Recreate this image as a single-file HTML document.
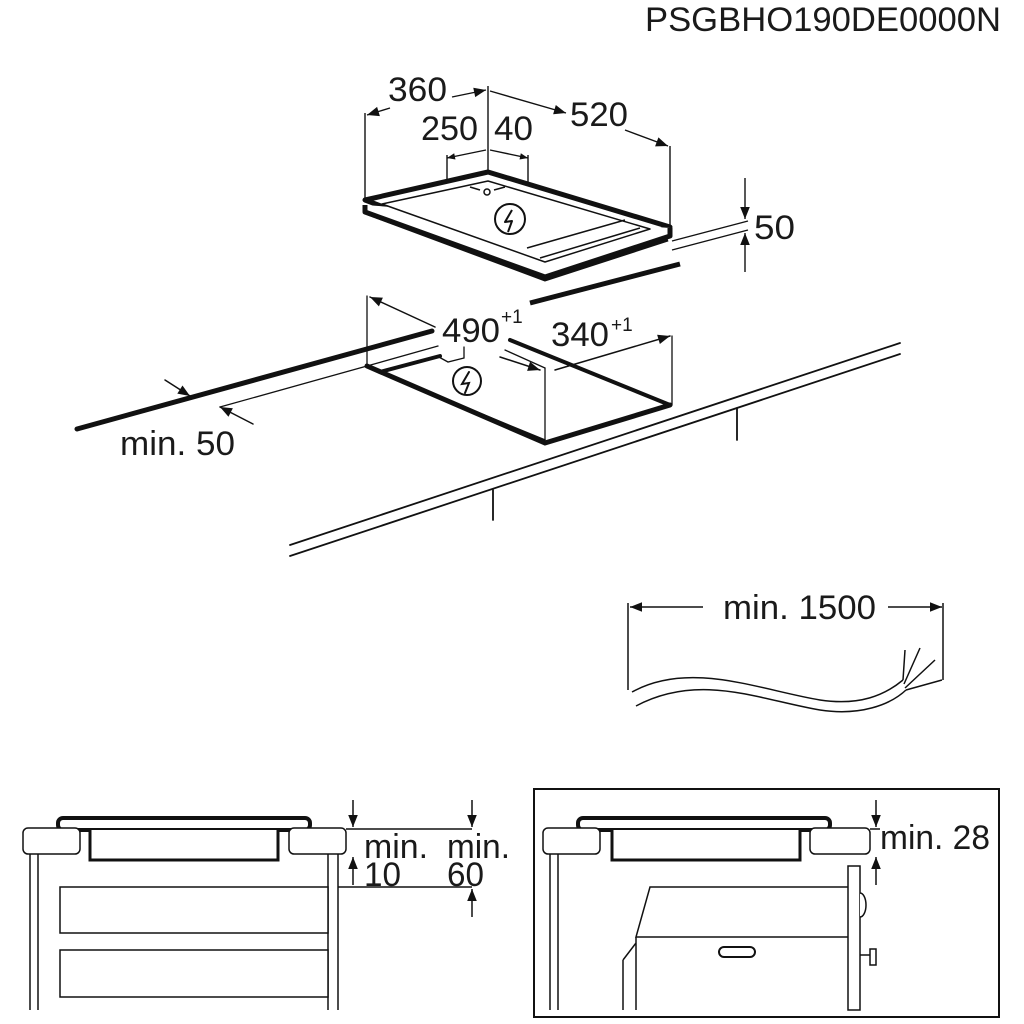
<!DOCTYPE html>
<html><head><style>
html,body{margin:0;padding:0;background:#fff;}
svg{display:block}
text{font-family:"Liberation Sans",sans-serif;fill:#1a1a1a}
</style></head><body>
<svg width="1024" height="1024" viewBox="0 0 1024 1024" xmlns="http://www.w3.org/2000/svg">
<defs>
<marker id="a" viewBox="0 0 10 10" refX="10" refY="5" markerWidth="9" markerHeight="8" orient="auto-start-reverse" markerUnits="userSpaceOnUse"><path d="M0,1 L10,5 L0,9 z" fill="#111"/></marker>
<marker id="b" viewBox="0 0 10 10" refX="10" refY="5" markerWidth="16" markerHeight="12" orient="auto-start-reverse" markerUnits="userSpaceOnUse"><path d="M0,1 L10,5 L0,9 z" fill="#111"/></marker>
</defs>
<text x="1001" y="31" font-size="34" text-anchor="end" textLength="356" lengthAdjust="spacingAndGlyphs">PSGBHO190DE0000N</text>

<g stroke="#111" fill="none" stroke-width="1.4">
<line x1="365" y1="113" x2="365" y2="200"/>
<line x1="488" y1="86" x2="488" y2="176"/>
<line x1="670" y1="146" x2="670" y2="228"/>
<line x1="447" y1="155" x2="447" y2="180"/>
<line x1="528" y1="155" x2="528" y2="182"/>
<line x1="390" y1="108" x2="367" y2="115" marker-end="url(#b)"/>
<line x1="452" y1="97" x2="486" y2="90" marker-end="url(#b)"/>
<line x1="566" y1="113" x2="490" y2="91" marker-start="url(#b)"/>
<line x1="625" y1="130" x2="668" y2="146" marker-end="url(#b)"/>
<line x1="447" y1="158" x2="486" y2="150" marker-start="url(#a)"/>
<line x1="490" y1="150" x2="528" y2="158" marker-end="url(#a)"/>
<line x1="672" y1="241" x2="748" y2="221"/>
<line x1="672" y1="250" x2="748" y2="230"/>
<line x1="745" y1="178" x2="745" y2="219" marker-end="url(#b)"/>
<line x1="745" y1="272" x2="745" y2="233" marker-end="url(#b)"/>
</g>
<text x="754" y="239" font-size="34" textLength="41" lengthAdjust="spacingAndGlyphs">50</text>
<text x="388" y="101" font-size="34" textLength="59" lengthAdjust="spacingAndGlyphs">360</text>
<text x="570" y="126" font-size="34" textLength="58" lengthAdjust="spacingAndGlyphs">520</text>
<text x="421" y="140" font-size="34" textLength="57" lengthAdjust="spacingAndGlyphs">250</text>
<text x="494" y="140" font-size="34" textLength="39" lengthAdjust="spacingAndGlyphs">40</text>

<g stroke="#111" fill="#fff" stroke-linejoin="round">
<path d="M365,200 L488,172 L670,227 L545,268 Z" stroke-width="5"/>
<path d="M365,205 L365,212 L545,277 L670,236 L670,228" stroke-width="5"/>
<path d="M368,214 L545,280 L668,240" stroke-width="3" fill="none"/>
<path d="M382,204 L488,181 L650,229 L545,262 Z" stroke-width="1.5" fill="none"/>
<path d="M527,248 L625,220 M540,258 L640,228" stroke-width="1.5" fill="none"/>
<line x1="530" y1="303" x2="680" y2="264" stroke-width="5"/>
<circle cx="510" cy="219" r="15" stroke-width="2"/>
<path d="M512,210 L505,222 L512,221 L508,232" stroke-width="2" fill="none"/>
<circle cx="487" cy="192" r="3" stroke-width="1.5"/>
<path d="M470,187 L480,190 M494,190 L505,187" stroke-width="1.5"/>
</g>

<g stroke="#111" fill="none" stroke-linecap="round">
<line x1="77" y1="429" x2="432" y2="331" stroke-width="5"/>
<line x1="220" y1="407" x2="367" y2="366" stroke-width="1.3"/>
<line x1="367" y1="366" x2="438" y2="346" stroke-width="1.3"/>
<line x1="380" y1="372" x2="440" y2="356" stroke-width="4"/>
<path d="M437,356 L448,362 L464,358 L464,347" stroke-width="1.3"/>
<line x1="367" y1="296" x2="367" y2="366" stroke-width="1.3"/>
<line x1="435" y1="327" x2="370" y2="297" stroke-width="1.5" marker-end="url(#b)"/>
<line x1="165" y1="380" x2="190" y2="396" stroke-width="1.5" marker-end="url(#b)"/>
<line x1="253" y1="424" x2="220" y2="407" stroke-width="1.5" marker-end="url(#b)"/>
<path d="M367,366 L545,443 L670,405" stroke-width="5"/>
<path d="M380,372 L545,440" stroke-width="1.5"/>
<line x1="510" y1="340" x2="670" y2="405" stroke-width="4"/>
<line x1="505" y1="350" x2="545" y2="368" stroke-width="1.3"/>
<line x1="545" y1="368" x2="545" y2="443" stroke-width="1.3"/>
<line x1="672" y1="336" x2="672" y2="405" stroke-width="1.3"/>
<line x1="500" y1="357" x2="540" y2="370" stroke-width="1.5" marker-end="url(#b)"/>
<line x1="555" y1="370" x2="670" y2="336" stroke-width="1.5" marker-end="url(#b)"/>
<line x1="290" y1="545" x2="900" y2="343" stroke-width="1.8"/>
<line x1="290" y1="556" x2="900" y2="354" stroke-width="1.8"/>
<line x1="493" y1="490" x2="493" y2="520" stroke-width="1.8"/>
<line x1="737" y1="408" x2="737" y2="440" stroke-width="1.8"/>
<circle cx="467" cy="381" r="14" stroke-width="2" fill="#fff"/>
<path d="M469,372 L462,384 L469,383 L465,393" stroke-width="2"/>
</g>
<text x="442" y="342" font-size="34" textLength="58" lengthAdjust="spacingAndGlyphs">490</text>
<text x="501" y="323" font-size="19">+1</text>
<text x="551" y="346" font-size="34" textLength="58" lengthAdjust="spacingAndGlyphs">340</text>
<text x="611" y="331" font-size="19">+1</text>
<text x="120" y="455" font-size="34" textLength="115" lengthAdjust="spacingAndGlyphs">min. 50</text>

<g stroke="#111" fill="none" stroke-width="1.5">
<line x1="628" y1="603" x2="628" y2="690"/>
<line x1="943" y1="603" x2="943" y2="680"/>
<line x1="703" y1="607" x2="630" y2="607" marker-end="url(#b)"/>
<line x1="888" y1="607" x2="942" y2="607" marker-end="url(#b)"/>
<path d="M632,692 C690,660 760,690 820,700 C860,706 885,695 903,680"/>
<path d="M636,706 C700,672 760,700 820,710 C860,716 890,705 906,690"/>
<path d="M903,680 L905,650 M904,684 L920,648 M905,688 L935,660 M906,690 L942,680"/>
</g>
<text x="723" y="619" font-size="34" textLength="153" lengthAdjust="spacingAndGlyphs">min. 1500</text>

<g stroke="#111" fill="#fff" stroke-width="1.5">
<rect x="58" y="818" width="252" height="12" rx="5" stroke-width="4"/>
<path d="M90,830 L90,860 L278,860 L278,830" stroke-width="3"/>
<rect x="23" y="828" width="57" height="26" rx="5"/>
<rect x="289" y="828" width="57" height="26" rx="5"/>
<line x1="30" y1="854" x2="30" y2="1010"/><line x1="38" y1="854" x2="38" y2="1010"/>
<line x1="328" y1="854" x2="328" y2="1010"/><line x1="338" y1="854" x2="338" y2="1010"/>
<rect x="60" y="887" width="268" height="46"/>
<rect x="60" y="950" width="268" height="47"/>
<line x1="346" y1="829" x2="472" y2="829"/>
<line x1="338" y1="887" x2="472" y2="887"/>
<line x1="353" y1="800" x2="353" y2="827" marker-end="url(#b)"/>
<line x1="353" y1="885" x2="353" y2="857" marker-end="url(#b)"/>
<line x1="472" y1="800" x2="472" y2="827" marker-end="url(#b)"/>
<line x1="472" y1="917" x2="472" y2="889" marker-end="url(#b)"/>
</g>
<text x="364" y="858" font-size="34" textLength="64" lengthAdjust="spacingAndGlyphs">min.</text>
<text x="447" y="858" font-size="34" textLength="63" lengthAdjust="spacingAndGlyphs">min.</text>
<text x="364" y="886" font-size="34" textLength="37" lengthAdjust="spacingAndGlyphs">10</text>
<text x="447" y="886" font-size="34" textLength="37" lengthAdjust="spacingAndGlyphs">60</text>

<g stroke="#111" fill="#fff" stroke-width="1.5">
<rect x="534" y="789" width="465" height="228" stroke-width="2"/>
<rect x="578" y="818" width="252" height="12" rx="5" stroke-width="4"/>
<path d="M612,830 L612,860 L800,860 L800,830" stroke-width="3"/>
<rect x="543" y="828" width="57" height="26" rx="5"/>
<rect x="810" y="828" width="60" height="26" rx="5"/>
<line x1="550" y1="854" x2="550" y2="1010"/><line x1="558" y1="854" x2="558" y2="1010"/>
<path d="M650,887 L852,887 L852,937 L636,937 Z"/>
<path d="M636,937 L636,1010 M623,960 L636,943 M623,960 L623,1010"/>
<rect x="848" y="866" width="12" height="144"/>
<path d="M860,893 A6,12 0 0 1 860,917"/>
<path d="M860,955 L870,955 M870,949 L876,949 L876,965 L870,965 Z"/>
<rect x="719" y="947" width="36" height="10" rx="5" stroke-width="2"/>
<line x1="870" y1="829" x2="880" y2="829"/>
<line x1="876" y1="800" x2="876" y2="827" marker-end="url(#b)"/>
<line x1="876" y1="885" x2="876" y2="857" marker-end="url(#b)"/>
</g>
<text x="880" y="849" font-size="34" textLength="110" lengthAdjust="spacingAndGlyphs">min. 28</text>
</svg>
</body></html>
